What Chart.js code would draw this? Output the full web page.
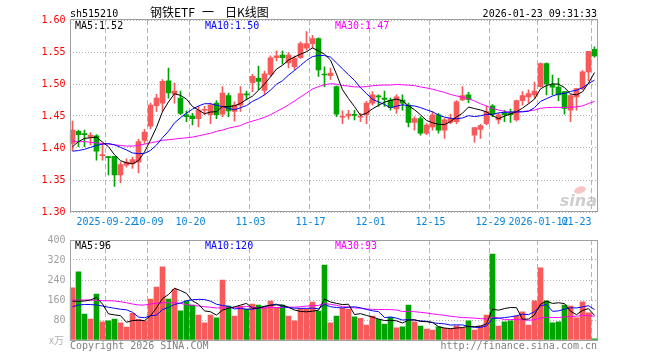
<!DOCTYPE html>
<html>
<head>
<meta charset="utf-8">
<script src="https://cdn.jsdelivr.net/npm/chart.js@4.4.1/dist/chart.umd.min.js"></script>
<style>
html,body{margin:0;padding:0;background:#fff;}
#wrap{position:relative;width:660px;height:360px;overflow:hidden;}
#k{position:absolute;left:0;top:0;}
#v{position:absolute;left:0;top:230px;}
</style>
</head>
<body>
<div id="wrap">
<canvas id="k" width="660" height="230"></canvas>
<canvas id="v" width="660" height="130"></canvas>
</div>
<script>
// trading days, 2025-09-12 .. 2026-01-23
const dates = [
  '09-12','09-15','09-16','09-17','09-18','09-19','09-22','09-23','09-24','09-25','09-26','09-29','09-30',
  '10-09','10-10','10-13','10-14','10-15','10-16','10-17','10-20','10-21','10-22','10-23','10-24','10-27','10-28','10-29','10-30','10-31',
  '11-03','11-04','11-05','11-06','11-07','11-10','11-11','11-12','11-13','11-14','11-17','11-18','11-19','11-20','11-21','11-24','11-25','11-26','11-27','11-28',
  '12-01','12-02','12-03','12-04','12-05','12-08','12-09','12-10','12-11','12-12','12-15','12-16','12-17','12-18','12-19','12-22','12-23','12-24','12-25','12-26','12-29','12-30','12-31',
  '01-05','01-06','01-07','01-08','01-09','01-12','01-13','01-14','01-15','01-16','01-19','01-20','01-21','01-22','01-23'
];

const open = [
  1.407,1.426,1.422,1.417,1.419,1.388,1.386,1.387,1.358,1.373,1.375,1.378,1.412,
  1.434,1.466,1.470,1.505,1.484,1.478,1.452,1.450,1.446,1.459,1.452,1.470,1.453,1.482,1.457,1.467,1.484,
  1.502,1.509,1.490,1.515,1.541,1.545,1.533,1.527,1.541,1.556,1.563,1.571,1.515,1.513,1.496,1.448,1.450,1.452,1.448,1.452,
  1.470,1.481,1.478,1.475,1.461,1.475,1.467,1.440,1.446,1.423,1.433,1.452,1.428,1.440,1.441,1.475,1.483,1.420,1.429,1.438,1.466,1.444,1.455,
  1.454,1.444,1.474,1.480,1.483,1.496,1.532,1.499,1.495,1.488,1.459,1.480,1.493,1.519,1.554
];
const high = [
  1.442,1.428,1.428,1.424,1.421,1.407,1.387,1.387,1.378,1.383,1.386,1.414,1.429,
  1.470,1.484,1.507,1.525,1.502,1.489,1.458,1.454,1.465,1.465,1.470,1.474,1.496,1.486,1.472,1.496,1.489,
  1.515,1.528,1.520,1.544,1.552,1.552,1.549,1.544,1.566,1.582,1.576,1.572,1.527,1.525,1.497,1.458,1.459,1.459,1.454,1.473,
  1.488,1.483,1.489,1.478,1.483,1.483,1.470,1.449,1.449,1.438,1.457,1.454,1.446,1.453,1.474,1.496,1.487,1.432,1.437,1.466,1.468,1.454,1.459,
  1.461,1.475,1.488,1.491,1.503,1.533,1.533,1.514,1.509,1.488,1.483,1.493,1.521,1.551,1.558
];
const low = [
  1.396,1.402,1.402,1.405,1.381,1.381,1.358,1.340,1.346,1.370,1.368,1.361,1.407,
  1.430,1.457,1.457,1.478,1.470,1.452,1.441,1.436,1.433,1.452,1.438,1.446,1.449,1.449,1.442,1.457,1.475,
  1.488,1.491,1.483,1.512,1.536,1.531,1.525,1.522,1.540,1.553,1.556,1.512,1.496,1.507,1.449,1.438,1.445,1.444,1.441,1.438,
  1.467,1.465,1.465,1.459,1.454,1.459,1.433,1.428,1.420,1.421,1.428,1.423,1.415,1.438,1.438,1.474,1.471,1.409,1.415,1.436,1.449,1.438,1.441,
  1.440,1.442,1.467,1.470,1.478,1.495,1.483,1.483,1.474,1.453,1.441,1.459,1.491,1.505,1.542
];
const close = [
  1.428,1.421,1.421,1.420,1.395,1.389,1.385,1.358,1.374,1.378,1.382,1.410,1.425,
  1.467,1.478,1.504,1.486,1.489,1.454,1.449,1.446,1.459,1.460,1.467,1.452,1.486,1.458,1.467,1.485,1.483,
  1.512,1.504,1.516,1.541,1.544,1.541,1.545,1.540,1.563,1.563,1.571,1.522,1.514,1.517,1.453,1.449,1.453,1.451,1.449,1.470,
  1.483,1.480,1.476,1.463,1.480,1.470,1.440,1.446,1.423,1.436,1.452,1.428,1.444,1.446,1.472,1.482,1.476,1.432,1.435,1.457,1.453,1.452,1.452,
  1.452,1.474,1.482,1.485,1.489,1.532,1.500,1.495,1.483,1.462,1.482,1.493,1.519,1.551,1.544
];
// volume, 万
const volume = [
  209,273,104,84,184,73,77,84,69,52,107,83,77,
  164,212,293,164,203,117,156,140,100,69,100,89,240,136,96,136,124,
  144,140,131,156,131,140,96,77,127,124,152,116,300,69,96,127,124,93,87,60,
  96,83,64,91,49,53,140,73,56,44,40,53,47,43,57,49,77,40,56,100,344,56,73,
  77,96,113,60,157,289,157,69,73,140,136,89,153,109,5
];

const ma5Head = [1.402,1.410,1.415,1.416];
const ma10Head = [1.395,1.396,1.398,1.401,1.404,1.406,1.407,1.405,1.401];
const ma30Head = [1.411,1.410,1.410,1.409,1.408,1.407,1.406,1.405,1.404,1.403,1.403,1.404,1.406,1.408,1.410,
  1.412,1.413,1.414,1.415,1.416,1.417,1.419,1.421,1.423,1.426,1.428,1.431,1.433,1.435];
const vma5Head = [155,155,156,160];
const vma10Head = [133,140,142,142,140,136,131,127,123];
const vma30Head = [160,160,160,160,159,157,157,156,153,149,144,140,140,144,147,
  149,149,149,147,141,139,136,133,131,128,129,129,131,131];

const tickDates = ['09-22','10-09','10-20','11-03','11-17','12-01','12-15','12-29','01-12','01-23'];
const tickText = ['2025-09-22','10-09','10-20','11-03','11-17','12-01','12-15','12-29','2026-01-12','01-23'];
const kLegend = ['MA5:1.52','MA10:1.50','MA30:1.47'];
const vLegend = ['MA5:96','MA10:120','MA30:93'];

const RED = '#f65a5a', GREEN = '#00a400';
const MONO = '10px "DejaVu Sans Mono", monospace';
const maColors = ['#000000','#0000ff','#ff00ff'];

function movingAvg(src, n, head) {
  return src.map((v, i) => {
    if (i < head.length) return head[i];
    let s = 0;
    for (let j = i - n + 1; j <= i; j++) s += src[j];
    return s / n;
  });
}

const cols = dates.map((d, i) => close[i] >= open[i] ? RED : GREEN);
const tickIdx = tickDates.map(d => dates.indexOf(d));

function xScaleOpts(h) {
  return {
    offset: true,
    grid: {
      offset: true, drawTicks: false, lineWidth: 1,
      color: c => tickIdx.includes(c.index) ? '#b4b4b4' : 'rgba(0,0,0,0)'
    },
    border: {display: false, dash: [5, 3]},
    ticks: {display: false, autoSkip: false},
    afterFit: s => { s.height = h; }
  };
}

function lineSet(data, color) {
  return {type: 'line', data: data, borderColor: color, borderWidth: 1, pointRadius: 0,
    tension: 0, order: 0};
}

const framePlugin = {
  id: 'frame',
  afterDraw(chart, args, opts) {
    const {ctx, chartArea: a} = chart;
    ctx.save();
    ctx.strokeStyle = '#a0a0a0';
    ctx.lineWidth = 1;
    ctx.strokeRect(a.left + 1, a.top + opts.dy, a.right - a.left - 1, a.bottom - a.top);
    ctx.restore();
  }
};

// K chart
new Chart(document.getElementById('k'), {
  type: 'bar',
  data: {
    labels: dates,
    datasets: [
      lineSet(movingAvg(close, 5, ma5Head), maColors[0]),
      lineSet(movingAvg(close, 10, ma10Head), maColors[1]),
      lineSet(movingAvg(close, 30, ma30Head), maColors[2]),
      {data: dates.map((d, i) => [open[i], close[i]]), backgroundColor: cols,
        barThickness: 5, minBarLength: 1, grouped: false, order: 1},
      {data: dates.map((d, i) => [low[i], high[i]]), backgroundColor: cols,
        barThickness: 1, grouped: false, order: 2}
    ]
  },
  options: {
    responsive: false, animation: false, events: [],
    layout: {padding: {left: 0, right: 62.5, top: 20, bottom: 0}},
    plugins: {legend: {display: false}, tooltip: {enabled: false}, frame: {dy: -0.5}},
    scales: {
      x: xScaleOpts(18),
      y: {
        min: 1.30, max: 1.60,
        ticks: {stepSize: 0.05, color: '#ff0000', font: {family: '"DejaVu Sans Mono"', size: 10},
          padding: 4, callback: v => v.toFixed(2)},
        grid: {color: '#b4b4b4', drawTicks: false},
        border: {display: false, dash: [1, 2]},
        afterFit: s => { s.width = 69.5; }
      }
    }
  },
  plugins: [framePlugin, {
    id: 'ktext',
    afterDraw(chart) {
      const ctx = chart.ctx, xs = chart.scales.x;
      ctx.save();
      ctx.font = MONO;
      ctx.textBaseline = 'alphabetic';
      ctx.fillStyle = '#000';
      ctx.textAlign = 'left';
      ctx.fillText('sh515210', 70, 17);
      ctx.textAlign = 'right';
      ctx.fillText('2026-01-23 09:31:33', 597, 17);
      ctx.font = '12px "Noto Sans CJK SC"';
      ctx.textAlign = 'left';
      ctx.fillText('钢铁ETF', 150, 17);
      ctx.fillText('一', 202, 17);
      ctx.fillText('日K线图', 225, 17);
      ctx.font = MONO;
      [75, 205, 335].forEach((x, i) => {
        ctx.fillStyle = maColors[i];
        ctx.fillText(kLegend[i], x, 29);
      });
      // date labels under the grid lines
      ctx.fillStyle = '#0a84d8';
      tickIdx.forEach((idx, j) => {
        const x = xs.getPixelForValue(idx) - 2;
        const last = j === tickIdx.length - 1;
        ctx.textAlign = last ? 'right' : 'center';
        ctx.fillText(tickText[j], last ? x - 1 : x, 225);
      });
      // sina watermark
      ctx.fillStyle = 'rgba(240,150,150,0.55)';
      ctx.beginPath();
      ctx.ellipse(580, 190, 6, 3.5, -0.3, 0, Math.PI * 2);
      ctx.fill();
      ctx.font = 'italic bold 16px "DejaVu Sans"';
      ctx.fillStyle = 'rgba(190,190,190,0.75)';
      ctx.textAlign = 'right';
      ctx.fillText('sina', 597, 206);
      ctx.restore();
    }
  }]
});

// volume chart
new Chart(document.getElementById('v'), {
  type: 'bar',
  data: {
    labels: dates,
    datasets: [
      lineSet(movingAvg(volume, 5, vma5Head), maColors[0]),
      lineSet(movingAvg(volume, 10, vma10Head), maColors[1]),
      lineSet(movingAvg(volume, 30, vma30Head), maColors[2]),
      {data: volume, backgroundColor: cols, barThickness: 5, minBarLength: 1, grouped: false, order: 1}
    ]
  },
  options: {
    responsive: false, animation: false, events: [],
    layout: {padding: {left: 0, right: 62.5, top: 10, bottom: 0}},
    plugins: {legend: {display: false}, tooltip: {enabled: false}, frame: {dy: 0.5}},
    scales: {
      x: xScaleOpts(20),
      y: {
        min: 0, max: 400,
        ticks: {stepSize: 80, color: '#a0a0a0', font: {family: '"DejaVu Sans Mono"', size: 10},
          padding: 4, callback: v => v === 0 ? '' : String(v)},
        grid: {color: '#b4b4b4', drawTicks: false},
        border: {display: false, dash: [1, 2]},
        afterFit: s => { s.width = 69.5; }
      }
    }
  },
  plugins: [framePlugin, {
    id: 'vtext',
    afterDraw(chart) {
      const ctx = chart.ctx;
      ctx.save();
      ctx.font = MONO;
      ctx.textAlign = 'left';
      [75, 205, 335].forEach((x, i) => {
        ctx.fillStyle = maColors[i];
        ctx.fillText(vLegend[i], x, 19);
      });
      ctx.fillStyle = '#808080';
      ctx.fillText('Copyright 2026 SINA.COM', 70, 119);
      ctx.textAlign = 'right';
      ctx.fillText('http://finance.sina.com.cn', 597, 119);
      ctx.fillStyle = '#b0b0b0';
      ctx.font = '10px "Noto Sans CJK SC"';
      ctx.fillText('x万', 64, 114);
      ctx.restore();
    }
  }]
});
</script>
</body>
</html>
